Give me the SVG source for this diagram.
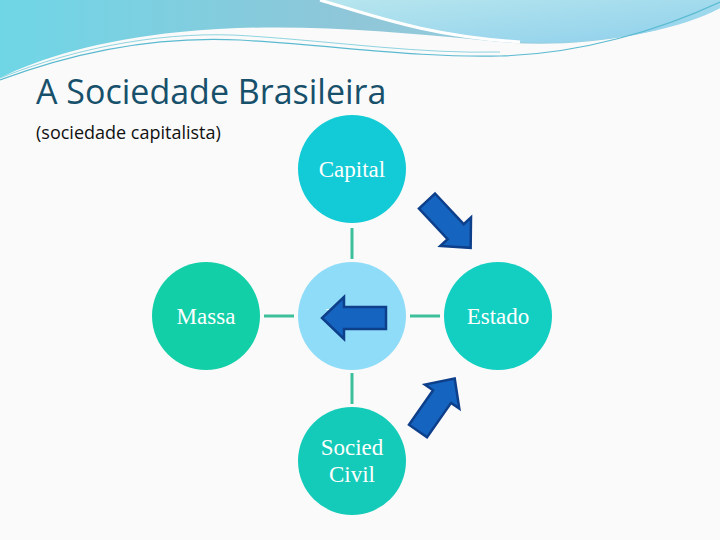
<svg xmlns="http://www.w3.org/2000/svg" width="720" height="540" viewBox="0 0 720 540">
<defs>
<linearGradient id="wave" x1="0" y1="0" x2="1" y2="0"><stop offset="0" stop-color="#6fd6e6"/><stop offset="0.5" stop-color="#8fc6d8"/><stop offset="1" stop-color="#9fd8e6"/></linearGradient>
<linearGradient id="wave2" x1="0" y1="0" x2="1" y2="1"><stop offset="0" stop-color="#b7e6ee"/><stop offset="1" stop-color="#8fd0ec"/></linearGradient>
<polygon id="arr" points="0,-11 42,-11 42,-21 64,0 42,21 42,11 0,11"/>
</defs>
<style>
.n{stroke:none}
.t{font-family:"Liberation Serif",serif;font-size:23px;fill:#fff;text-anchor:middle}
.c{stroke:#3dbf9a;stroke-width:3}
.a{fill:#1565c0;stroke:#0d3f8a;stroke-width:2.5;stroke-linejoin:miter}
</style>
<rect width="720" height="540" fill="#fafafa"/>
<path d="M0,0 H720 V8 C650,40 560,50 480,40 C380,30 280,22 180,32 C100,40 40,58 0,78 Z" fill="url(#wave)"/>
<path d="M320,0 H720 V8 C680,30 600,46 520,42 C430,36 380,18 320,0 Z" fill="url(#wave2)"/>
<path d="M320,0 C380,18 430,36 520,42" fill="none" stroke="#fff" stroke-width="3"/>
<path d="M0,80 C80,50 160,36 240,40 C340,46 420,58 500,56 C580,54 660,30 720,2" fill="none" stroke="#5bbad0" stroke-width="1.2"/>
<path d="M0,78 C80,46 170,30 250,36 C340,42 420,54 500,52" fill="none" stroke="#8fd4e0" stroke-width="1"/>
<text x="36" y="104" font-family="Open Sans, sans-serif" font-size="34" fill="#17506b">A Sociedade Brasileira</text>
<text x="36" y="139" font-family="Open Sans, sans-serif" font-size="18" fill="#111">(sociedade capitalista)</text>
<g id="connectors">
<line class="c" x1="352" y1="228" x2="352" y2="259"/>
<line class="c" x1="352" y1="373" x2="352" y2="404"/>
<line class="c" x1="264" y1="316" x2="294" y2="316"/>
<line class="c" x1="410" y1="316" x2="440" y2="316"/>
</g>
<g id="capital"><circle cx="352" cy="169" r="54" fill="#13cbd6"/><text class="t" x="352" y="177">Capital</text></g>
<g id="massa"><circle cx="206" cy="316" r="54" fill="#13cfa8"/><text class="t" x="206" y="324">Massa</text></g>
<g id="poder"><circle cx="352" cy="316" r="54" fill="#8fdcf8"/><text class="t" x="352" y="324">Poder</text></g>
<g id="estado"><circle cx="498" cy="316" r="54" fill="#13cfc2"/><text class="t" x="498" y="324">Estado</text></g>
<g id="sociedade"><circle cx="352" cy="461" r="54" fill="#13cbb8"/><text class="t" x="352" y="455">Socied</text><text class="t" x="352" y="482">Civil</text></g>
<g id="arrows">
<use href="#arr" class="a" transform="translate(427,201) rotate(47)"/>
<use href="#arr" class="a" transform="translate(386,318) rotate(180)"/>
<use href="#arr" class="a" transform="translate(418,431) rotate(-55)"/>
</g>
</svg>
